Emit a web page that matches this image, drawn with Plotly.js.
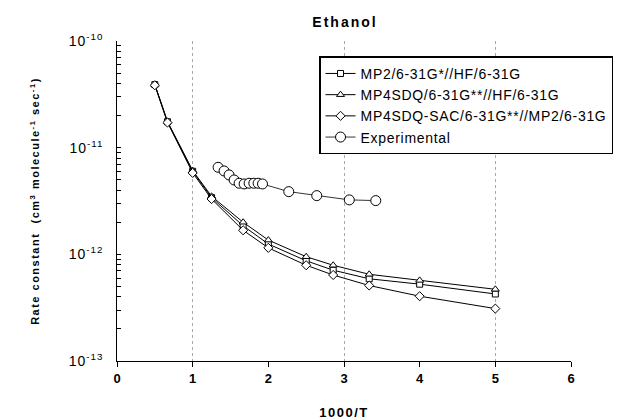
<!DOCTYPE html>
<html>
<head>
<meta charset="utf-8">
<script src="https://cdn.plot.ly/plotly-3.0.1.min.js"></script>
<style>
  body { margin: 0; background: #fff; }
  #chart { width: 625px; height: 420px; }
  svg text.legendtext { letter-spacing: 0.7px; }
  svg text.xtitle, svg text.ytitle { letter-spacing: 1.5px; }
  svg text.gtitle { letter-spacing: 2px; }
  svg g.ytick text { letter-spacing: 1px; }
</style>
</head>
<body>
<div id="chart"></div>
<script>
// 1000/T values for the computed rate constants
const xCalc = [0.5, 0.667, 1.0, 1.25, 1.667, 2.0, 2.5, 2.857, 3.333, 4.0, 5.0];
const kMP2 = [3.9e-11, 1.75e-11, 6.0e-12, 3.4e-12, 1.85e-12, 1.25e-12, 8.7e-13, 7.1e-13, 5.9e-13, 5.25e-13, 4.25e-13];
const kMP4 = [3.9e-11, 1.76e-11, 6.1e-12, 3.5e-12, 2.0e-12, 1.36e-12, 9.5e-13, 7.9e-13, 6.5e-13, 5.7e-13, 4.7e-13];
const kSAC = [3.85e-11, 1.72e-11, 5.8e-12, 3.3e-12, 1.68e-12, 1.15e-12, 7.9e-13, 6.4e-13, 5.1e-13, 4.05e-13, 3.1e-13];
// experimental
const xExp = [1.336, 1.415, 1.481, 1.548, 1.614, 1.68, 1.746, 1.808, 1.865, 1.923, 2.27, 2.64, 3.07, 3.42];
const kExp = [6.55e-12, 6.05e-12, 5.55e-12, 4.98e-12, 4.64e-12, 4.57e-12, 4.64e-12, 4.64e-12, 4.64e-12, 4.57e-12, 3.87e-12, 3.55e-12, 3.24e-12, 3.19e-12];

const names = ['MP2/6-31G*//HF/6-31G', 'MP4SDQ/6-31G**//HF/6-31G', 'MP4SDQ-SAC/6-31G**//MP2/6-31G', 'Experimental'];
const xTicks = [0, 1, 2, 3, 4, 5, 6];
const decades = [1e-13, 1e-12, 1e-11, 1e-10];
const decadeLabels = ['10<sup>-13</sup>', '10<sup>-12</sup>', '10<sup>-11</sup>', '10<sup>-10</sup>'];
const minorMult = [1, 2, 3, 4, 5, 6, 7, 8, 9];
const gridX = [1, 3, 5];

// y tick positions: each decade plus its 2..9 subdivisions (labels only on decades)
const yTickVals = [], yTickText = [];
decades.forEach((d, i) => {
  minorMult.forEach(m => {
    if (i === decades.length - 1 && m > 1) return;
    yTickVals.push(m * d);
    yTickText.push(m === 1 ? decadeLabels[i] + '&nbsp;&nbsp;' : '');
  });
});

const line = {color: '#000', width: 1};
function mk(sym, size) {
  return {symbol: sym, size: size, color: '#fff', line: {color: '#000', width: 1}};
}
const traces = [
  {x: xCalc, y: kMP2, name: names[0], mode: 'lines+markers', line: line, marker: mk('square', 6)},
  {x: xCalc, y: kMP4, name: names[1], mode: 'lines+markers', line: line, marker: mk('triangle-up', 7)},
  {x: xCalc, y: kSAC, name: names[2], mode: 'lines+markers', line: line, marker: mk('diamond', 7)},
  {x: xExp, y: kExp, name: names[3], mode: 'lines+markers', line: {color: '#000', width: 0.8}, marker: {symbol: 'circle', size: 10, color: '#fff', line: {color: '#000', width: 1}}},
  {x: [], y: [], xaxis: 'x2', showlegend: false, hoverinfo: 'skip'}
];

const layout = {
  width: 625, height: 420,
  margin: {l: 117, r: 54, t: 41, b: 59},
  paper_bgcolor: '#fff', plot_bgcolor: '#fff',
  font: {family: 'Liberation Sans, Arial, sans-serif', color: '#000', size: 12},
  title: {text: 'Ethanol', font: {size: 14, weight: 'bold'}, x: 0.552, xanchor: 'center', y: 0.948, yanchor: 'middle'},
  showlegend: true,
  legend: {
    x: 0.445, y: 0.952, xanchor: 'left', yanchor: 'top',
    bgcolor: '#fff', bordercolor: '#000', borderwidth: 1.5,
    font: {size: 14}, tracegroupgap: 0
  },
  xaxis: {
    range: [0, 6], tickvals: xTicks, ticktext: xTicks.map(String),
    showline: true, linecolor: '#000', linewidth: 1,
    ticks: 'outside', ticklen: 5, tickwidth: 1, tickcolor: '#000',
    showgrid: false, zeroline: false,
    tickfont: {size: 13, weight: 'bold'},
    title: {text: '1000/T', font: {size: 13, weight: 'bold'}, standoff: 24}
  },
  xaxis2: {
    overlaying: 'x', range: [0, 6], tickvals: gridX, showticklabels: false,
    showgrid: true, griddash: 'dot', gridcolor: '#aaa', gridwidth: 1,
    ticks: '', showline: false, zeroline: false
  },
  yaxis: {
    type: 'log', range: [-13, -10],
    tickmode: 'array', tickvals: yTickVals, ticktext: yTickText,
    showline: true, linecolor: '#000', linewidth: 1,
    ticks: 'inside', ticklen: 4, tickwidth: 1, tickcolor: '#000',
    showgrid: false, zeroline: false,
    tickfont: {size: 14},
    title: {text: 'Rate constant  (cm<sup>3</sup> molecule<sup>-1</sup> sec<sup>-1</sup>)', font: {size: 11, weight: 'bold'}, standoff: 26}
  }
};

Plotly.newPlot('chart', traces, layout, {displayModeBar: false, staticPlot: true});
</script>
</body>
</html>
